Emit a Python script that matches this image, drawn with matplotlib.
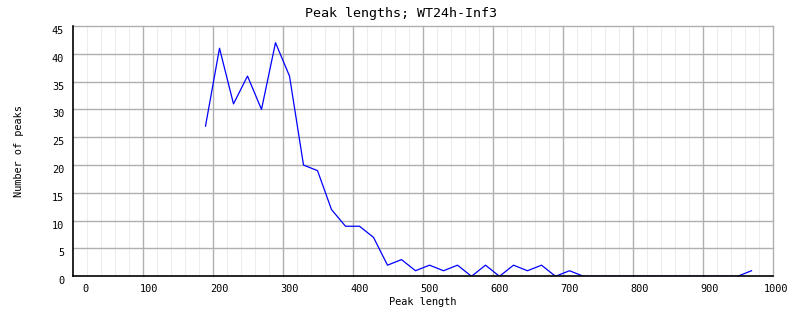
import numpy as np
import matplotlib
matplotlib.use("Agg")
import matplotlib.pyplot as plt

# peak length bins (bin centres) and counts
lengths = list(range(190, 971, 20))
counts = [27, 41, 31, 36, 30, 42, 36, 20, 19, 12, 9, 9, 7, 2, 3, 1, 2, 1, 2, 0,
          2, 0, 2, 1, 2, 0, 1, 0, 0, 0, 0, 0, 0, 0, 0, 0, 0, 0, 0, 1]
x_ticks = [0, 100, 200, 300, 400, 500, 600, 700, 800, 900, 1000]
y_ticks = [0, 5, 10, 15, 20, 25, 30, 35, 40, 45]

mono = "DejaVu Sans Mono"

fig = plt.figure(figsize=(8.02, 3.28), dpi=100)
W, H = 802, 328
ax = fig.add_axes([72.5 / W, (H - 276.3) / H, 700 / W, 250.3 / H])

# grid: minor every 20, major every 100 on x; every 5 on y
for v in range(20, 1000, 20):
    if v % 100:
        ax.axvline(v, color="#ededed", lw=0.8, zorder=0)
for v in range(100, 1001, 100):
    ax.axvline(v, color="#b0b0b0", lw=1.0, zorder=1, clip_on=False)
for v in y_ticks[1:]:
    ax.axhline(v, color="#b0b0b0", lw=1.0, zorder=1, clip_on=False)

ax.plot(lengths, counts, color="#0000ff", lw=0.9, zorder=3)

for s in ["top", "right"]:
    ax.spines[s].set_visible(False)
for s in ["left", "bottom"]:
    ax.spines[s].set_color("black")
    ax.spines[s].set_linewidth(1.2)
    ax.spines[s].set_zorder(4)

ax.set_xlim(0, 1000)
ax.set_ylim(0, 45)

# x labels are right-aligned a bit past their gridline in the original
ax.set_xticks([])
xtrans = ax.get_xaxis_transform()
for v in x_ticks:
    ax.text(v + 23, -0.032, str(v), transform=xtrans, ha="right", va="top",
            fontfamily=mono, fontsize=7.4, clip_on=False)

ax.set_yticks(y_ticks)
ax.set_yticklabels([str(v) for v in y_ticks], fontfamily=mono, fontsize=7.4,
                   va="top")
ax.tick_params(axis="both", length=0, pad=4)
ax.tick_params(axis="y", pad=6)

ax.set_xlabel("Peak length", fontfamily=mono, fontsize=7.4, labelpad=15)
ax.set_ylabel("Number of peaks", fontfamily=mono, fontsize=7.4, labelpad=20)
fig.text(0.5, 1 - 13 / H, "Peak lengths; WT24h-Inf3", ha="center", va="center",
         fontfamily=mono, fontsize=9.6)

fig.savefig("out.png", dpi=100, facecolor="white")
